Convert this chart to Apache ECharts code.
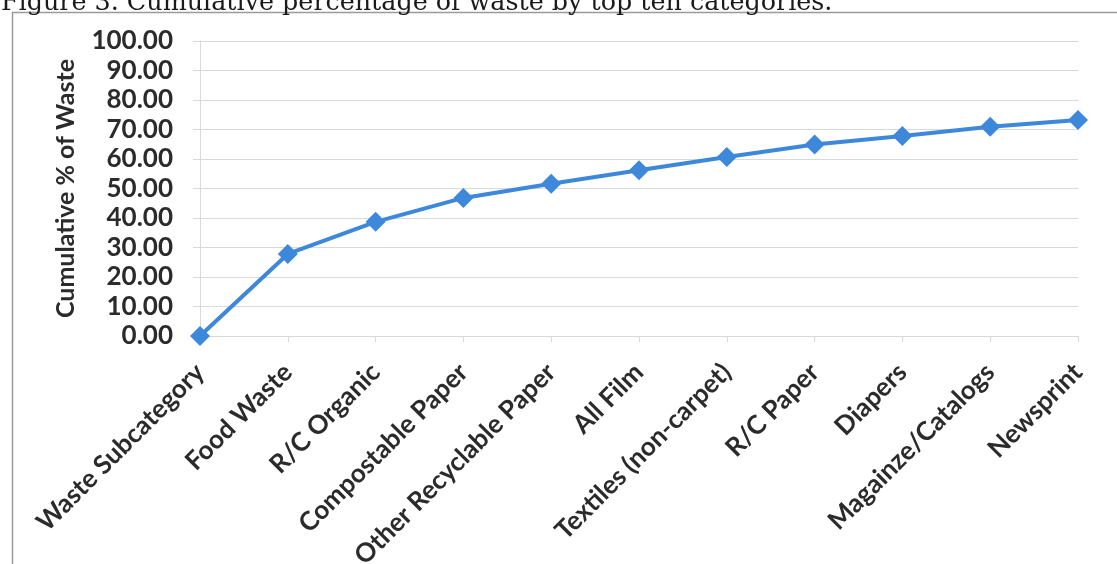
<!DOCTYPE html>
<html>
<head>
<meta charset="utf-8">
<script src="https://cdn.jsdelivr.net/npm/echarts@6/dist/echarts.min.js"></script>
<style>
html,body{margin:0;padding:0;background:#fff;}
#chart{width:1117px;height:564px;}
</style>
</head>
<body>
<div id="chart"></div>
<script>
const captionText = 'Figure 3. Cumulative percentage of waste by top ten categories.';
const yAxisTitle = 'Cumulative % of Waste';
const categories = ['Waste Subcategory','Food Waste','R/C Organic','Compostable Paper','Other Recyclable Paper','All Film','Textiles (non-carpet)','R/C Paper','Diapers','Magainze/Catalogs','Newsprint'];
const cumulativePct = [0, 27.8, 38.7, 46.8, 51.6, 56.2, 60.7, 64.9, 67.8, 70.9, 73.2];

const chart = echarts.init(document.getElementById('chart'), null, {renderer:'canvas'});
chart.setOption({
  animation:false,
  backgroundColor:'#ffffff',
  graphic:[
    {type:'text', x:0, y:0, z:10,
     style:{text:captionText, x:1, y:16, verticalAlign:'bottom', align:'left',
            font:'25.4px "DejaVu Serif"', fill:'#1a1a1a'}},
    {type:'rect', shape:{x:12.5,y:12.5,width:1120,height:600},
     style:{fill:'none', stroke:'#9a9a9a', lineWidth:1.5}, z:-1}
  ],
  grid:{left:200, right:39, top:41, bottom:228, containLabel:false, outerBoundsMode:'none'},
  xAxis:{
    type:'category', data:categories, boundaryGap:false,
    axisLine:{show:true, lineStyle:{color:'#d9d9d9', width:1}},
    axisTick:{show:true, alignWithLabel:true, length:6, lineStyle:{color:'#d9d9d9'}},
    axisLabel:{rotate:45, margin:32, interval:0, color:'#2b2b2b',
      fontFamily:'Lato', fontWeight:'bold', fontSize:26},
    splitLine:{show:false}
  },
  yAxis:{
    type:'value', min:0, max:100, interval:10,
    name:yAxisTitle, nameLocation:'middle', nameGap:122,
    nameTextStyle:{fontFamily:'Lato', fontWeight:'bold', fontSize:25, color:'#2b2b2b'},
    axisLine:{show:true, lineStyle:{color:'#d9d9d9'}},
    axisTick:{show:true, length:7, lineStyle:{color:'#d9d9d9'}},
    axisLabel:{margin:27, color:'#2b2b2b', fontFamily:'Lato', fontWeight:'bold', fontSize:26,
      formatter:v=>v.toFixed(2)},
    splitLine:{show:true, lineStyle:{color:'#d9d9d9', width:1}}
  },
  series:[{
    type:'line', data:cumulativePct,
    symbol:'diamond', symbolSize:[20,20],
    lineStyle:{color:'#3d88da', width:4},
    itemStyle:{color:'#3d88da'}
  }]
});
</script>
</body>
</html>
